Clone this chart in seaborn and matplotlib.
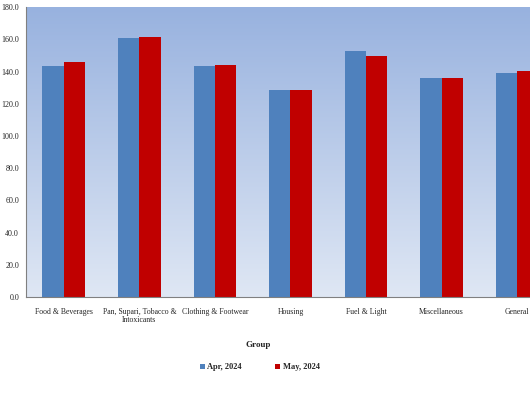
import numpy as np
import pandas as pd
import matplotlib
matplotlib.use('Agg')
import matplotlib.pyplot as plt
import seaborn as sns
from matplotlib.colors import LinearSegmentedColormap

# values
groups = ['Food & Beverages', 'Pan, Supari, Tobacco &\nIntoxicants', 'Clothing & Footwear',
          'Housing', 'Fuel & Light', 'Miscellaneous', 'General']
apr_2024 = [143.4, 160.8, 143.4, 128.7, 152.7, 136.2, 139.3]
may_2024 = [145.7, 161.6, 143.8, 128.7, 149.4, 136.2, 140.3]
periods = ['Apr, 2024', 'May, 2024']
colors = ['#4f81bd', '#c00000']

df = pd.DataFrame({'Group': groups * 2,
                   'Period': [periods[0]] * len(groups) + [periods[1]] * len(groups),
                   'Index': apr_2024 + may_2024})

sns.set_style('white')
plt.rcParams['font.family'] = ['Liberation Serif', 'DejaVu Serif']

fig = plt.figure(figsize=(5.3, 3.96), dpi=100)
ax = fig.add_axes([0.049, 0.25, 0.998, 0.732])

# gradient plot area
grad = LinearSegmentedColormap.from_list('bg', ['#98b2df', '#dfe7f4'])
ax.imshow(np.linspace(0, 1, 256).reshape(-1, 1), cmap=grad, aspect='auto',
          extent=[0, 1, 0, 1], transform=ax.transAxes, zorder=0)

sns.barplot(data=df, x='Group', y='Index', hue='Period', palette=colors,
            saturation=1, width=0.565, gap=0, linewidth=0, edgecolor='none',
            ax=ax, zorder=2, legend=True)

ax.set_ylim(0, 180)
ax.set_xlim(-0.5, len(groups) - 0.5)
ax.set_yticks(np.arange(0, 181, 20))
ax.set_yticklabels([f'{v:.1f}' for v in np.arange(0, 181, 20)], fontsize=5.8)
ax.set_xticks(range(len(groups)))
ax.set_xticklabels(groups, fontsize=5.6, linespacing=1.0)
ax.set_xticks(np.arange(-0.5, len(groups), 1), minor=True)
ax.tick_params(axis='x', which='major', length=0, pad=8)
ax.tick_params(axis='x', which='minor', length=3, color='#808080', direction='out')
ax.tick_params(axis='y', length=3, color='#808080', direction='out', pad=2)
for s in ['top', 'right']:
    ax.spines[s].set_visible(False)
for s in ['left', 'bottom']:
    ax.spines[s].set_color('#808080')
    ax.spines[s].set_linewidth(0.8)
ax.set_xlabel('')
ax.set_ylabel('')

fig.text(0.487, 0.13, 'Group', fontsize=6.5, fontweight='bold', ha='center', va='center')

handles, labels = ax.get_legend_handles_labels()
ax.get_legend().remove()
fig.legend(handles, labels, loc='center', bbox_to_anchor=(0.49, 0.073), ncol=2,
           frameon=False, prop={'size': 6, 'weight': 'bold'},
           handlelength=0.6, handleheight=0.6, handletextpad=0.3, columnspacing=4)

fig.savefig('out.png', dpi=100)
